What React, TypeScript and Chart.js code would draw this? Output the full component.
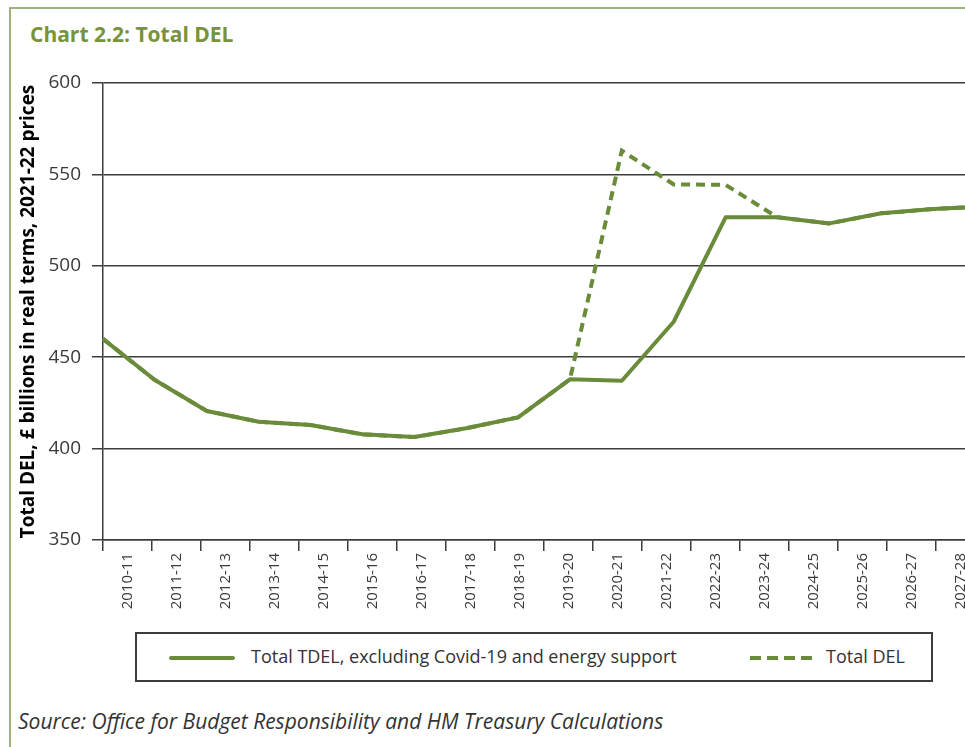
import React, { useEffect, useRef } from 'react';
import { Chart, registerables } from 'chart.js';

Chart.register(...registerables);

const categories = [
  '2010-11', '2011-12', '2012-13', '2013-14', '2014-15', '2015-16', '2016-17', '2017-18', '2018-19',
  '2019-20', '2020-21', '2021-22', '2022-23', '2023-24', '2024-25', '2025-26', '2026-27', '2027-28',
];
const tdelExCovidEnergy = [
  460, 437.5, 420.6, 414.7, 412.9, 407.8, 406.3, 411.1, 417.1,
  437.9, 437.1, 469.4, 526.5, 526.5, 523.2, 528.7, 531.1, 532.5,
];
const totalDel = [
  460, 437.5, 420.6, 414.7, 412.9, 407.8, 406.3, 411.1, 417.1,
  437.9, 563, 544.5, 544.3, 526.5, 523.2, 528.7, 531.1, 532.5,
];
const yTicks = [350, 400, 450, 500, 550, 600];

const seriesNames = ['Total TDEL, excluding Covid-19 and energy support', 'Total DEL'];
const chartTitle = 'Chart 2.2: Total DEL';
const yAxisTitle = 'Total DEL, £ billions in real terms, 2021-22 prices';
const sourceText = 'Source: Office for Budget Responsibility and HM Treasury Calculations';

const GREEN = '#6a8b3a';
const AXIS = '#3c3c3c';
const FONT = '"Open Sans", "DejaVu Sans", sans-serif';

export default function App() {
  const canvasRef = useRef<HTMLCanvasElement | null>(null);

  useEffect(() => {
    const canvas = canvasRef.current;
    if (!canvas) return;
    const chart = new Chart(canvas, {
      type: 'line',
      data: {
        labels: categories,
        datasets: [
          {
            label: seriesNames[0],
            data: tdelExCovidEnergy,
            xAxisID: 'xd',
            borderColor: GREEN,
            borderWidth: 4,
            pointRadius: 0,
            tension: 0,
            borderJoinStyle: 'round',
            fill: false,
          },
          {
            label: seriesNames[1],
            data: totalDel,
            xAxisID: 'xd',
            borderColor: GREEN,
            borderWidth: 4,
            borderDash: [9, 6],
            pointRadius: 0,
            tension: 0,
            fill: false,
          },
        ],
      },
      options: {
        animation: false,
        responsive: false,
        devicePixelRatio: 1,
        layout: { padding: { top: 83, right: 15, left: 0, bottom: 0 } },
        plugins: {
          legend: { display: false },
          tooltip: { enabled: false },
          title: { display: false },
        },
        scales: {
          x: {
            type: 'category',
            position: 'bottom',
            offset: true,
            afterFit: (s: any) => { s.height = 80; },
            grid: {
              offset: true,
              drawOnChartArea: false,
              drawTicks: true,
              tickLength: 11,
              color: AXIS,
              lineWidth: 1.5,
            },
            border: { display: true, color: AXIS, width: 1.5 },
            ticks: {
              autoSkip: false,
              maxRotation: 90,
              minRotation: 90,
              padding: 2,
              color: '#3a3a3a',
              font: { family: FONT, size: 15 },
            },
          },
          xd: {
            type: 'category',
            position: 'bottom',
            display: false,
            offset: false,
          },
          y: {
            type: 'linear',
            position: 'left',
            min: 350,
            max: 600,
            afterFit: (s: any) => { s.width = 103; },
            afterBuildTicks: (s: any) => { s.ticks = yTicks.map((v) => ({ value: v })); },
            grid: {
              color: AXIS,
              lineWidth: 1.5,
              tickLength: 11,
              drawTicks: true,
            },
            border: { display: true, color: AXIS, width: 1.5 },
            ticks: {
              stepSize: 50,
              padding: 11,
              color: '#3a3a3a',
              font: { family: FONT, size: 19 },
            },
            title: {
              display: true,
              text: yAxisTitle,
              color: '#000',
              font: { family: FONT, size: 19, weight: 'bold' },
              padding: { top: 17.5, bottom: 0 },
            },
          },
        },
      },
    } as any);
    return () => chart.destroy();
  }, []);

  return (
    <div style={{ position: 'fixed', left: 0, top: 0, width: 965, height: 747, overflow: 'hidden', background: '#fff', fontFamily: FONT }}>
      <div style={{ position: 'absolute', left: 9, top: 7, width: 1200, height: 900, borderLeft: '2.5px solid #9db27f', borderTop: '2.5px solid #9db27f' }} />
      <div style={{ position: 'absolute', left: 30, top: 24, fontSize: 21, lineHeight: '21px', fontWeight: 700, color: '#77933c', whiteSpace: 'nowrap' }}>
        {chartTitle}
      </div>
      <canvas ref={canvasRef} width={1000} height={620} style={{ position: 'absolute', left: 0, top: 0, width: 1000, height: 620 }} />
      <div style={{ position: 'absolute', left: 135, top: 632, width: 798, height: 50, boxSizing: 'border-box', border: `2px solid ${AXIS}` }}>
        <svg style={{ position: 'absolute', left: 32, top: 20, overflow: 'visible' }} width={66} height={8}>
          <line x1={2} y1={4} x2={64} y2={4} stroke={GREEN} strokeWidth={4} strokeLinecap="round" />
        </svg>
        <div style={{ position: 'absolute', left: 114, top: 13, fontSize: 18, lineHeight: '18px', color: '#333', whiteSpace: 'nowrap' }}>
          {seriesNames[0]}
        </div>
        <svg style={{ position: 'absolute', left: 613, top: 20, overflow: 'visible' }} width={66} height={8}>
          <line x1={0} y1={4} x2={62} y2={4} stroke={GREEN} strokeWidth={4} strokeDasharray="11 6" />
        </svg>
        <div style={{ position: 'absolute', left: 689, top: 13, fontSize: 18, lineHeight: '18px', color: '#333', whiteSpace: 'nowrap' }}>
          {seriesNames[1]}
        </div>
      </div>
      <div style={{ position: 'absolute', left: 18, top: 711, fontSize: 21, lineHeight: '21px', fontStyle: 'italic', color: '#333', whiteSpace: 'nowrap' }}>
        {sourceText}
      </div>
    </div>
  );
}
